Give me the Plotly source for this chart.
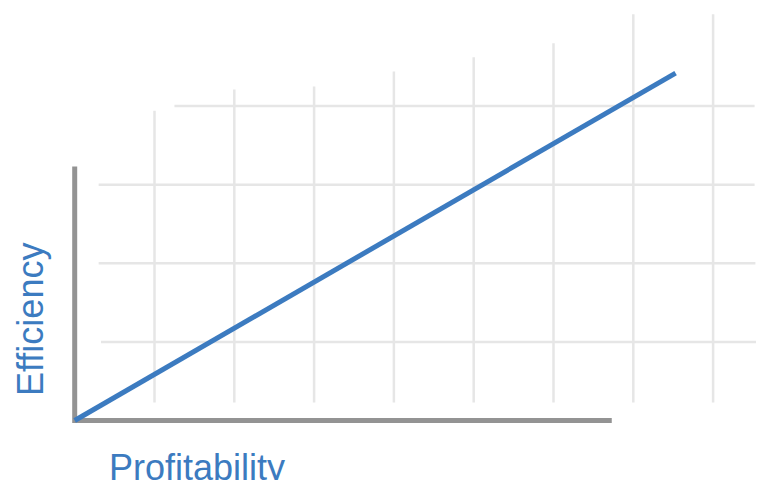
import plotly.graph_objects as go

# ---- data (grid units) ----
grid_x = [1, 2, 3, 4, 5, 6, 7, 8]
grid_x_top = [3.94, 4.21, 4.25, 4.44, 4.62, 4.80, 5.17, 5.17]
grid_x_bottom = [0.23, 0.23, 0.23, 0.23, 0.23, 0.23, 0.23, 0.23]

grid_y = [1, 2, 3, 4]
grid_y_left = [0.33, 0.30, 0.30, 1.25]
grid_y_right = [8.55, 8.53, 8.52, 8.52]

axis_x = [0, 0, 6.73]
axis_y = [3.23, 0, 0]

trend_x = [0, 7.53]
trend_y = [0, 4.42]

x_title = "Profitability"
y_title = "Efficiency"

BLUE = "#3c7bc0"
GRAY = "#939393"
GRID = "#e6e6e6"

W, H = 764, 480
OFF = 8  # page body margin

# build grid segments
gx, gy = [], []
for x, b, t in zip(grid_x, grid_x_bottom, grid_x_top):
    gx += [x, x, None]
    gy += [b, t, None]
hx, hy = [], []
for y, l, r in zip(grid_y, grid_y_left, grid_y_right):
    hx += [l, r, None]
    hy += [y, y, None]

fig = go.Figure()
fig.add_trace(go.Scatter(x=gx, y=gy, mode="lines",
                         line=dict(color=GRID, width=2.5), hoverinfo="skip"))
fig.add_trace(go.Scatter(x=hx, y=hy, mode="lines",
                         line=dict(color=GRID, width=2.5), hoverinfo="skip"))
fig.add_trace(go.Scatter(x=axis_x, y=axis_y, mode="lines",
                         line=dict(color=GRAY, width=5), hoverinfo="skip"))
fig.add_trace(go.Scatter(x=trend_x, y=trend_y, mode="lines",
                         line=dict(color=BLUE, width=5), hoverinfo="skip"))

fig.add_annotation(text=x_title, xref="paper", yref="paper",
                   x=(107 - OFF) / W, y=(H - (445 - OFF)) / H, xanchor="left", yanchor="top",
                   showarrow=False,
                   font=dict(family="Liberation Sans, Arial, sans-serif", size=36, color=BLUE))
fig.add_annotation(text=y_title, xref="paper", yref="paper", textangle=-90,
                   x=(30 - OFF) / W, y=(H - (320 - OFF)) / H, xanchor="center", yanchor="middle",
                   showarrow=False,
                   font=dict(family="Liberation Sans, Arial, sans-serif", size=36, color=BLUE))

x0 = 74.7 - OFF
y0 = 420.5 - OFF
fig.update_layout(
    width=W, height=H,
    margin=dict(l=0, r=0, t=0, b=0),
    paper_bgcolor="white", plot_bgcolor="white",
    showlegend=False,
    xaxis=dict(range=[-x0 / 79.8, (W - x0) / 79.8], visible=False, fixedrange=True),
    yaxis=dict(range=[-(H - y0) / 78.6, y0 / 78.6], visible=False, fixedrange=True),
)

fig.write_html("out.html", config={"displayModeBar": False})
